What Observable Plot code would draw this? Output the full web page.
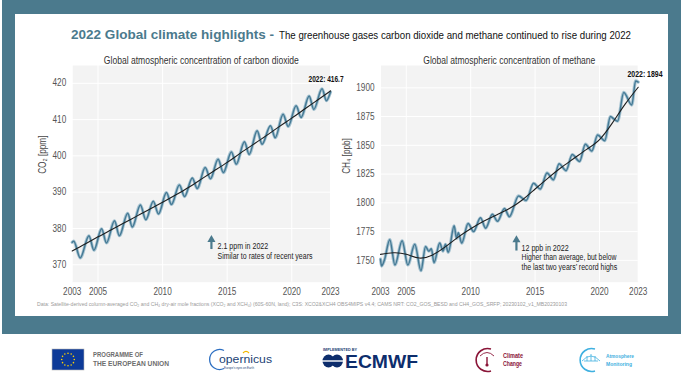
<!DOCTYPE html>
<html><head><meta charset="utf-8">
<script src="https://cdn.jsdelivr.net/npm/d3@7"></script>
<script src="https://cdn.jsdelivr.net/npm/@observablehq/plot@0.6"></script>
<style>
html,body{margin:0;padding:0;background:#fff;}
#page{position:relative;width:684px;height:387px;overflow:hidden;background:#fff;}
#frame{position:absolute;left:2px;top:0;width:679px;height:334px;background:#4b7a8d;}
#panel{position:absolute;left:15px;top:14px;width:653px;height:302px;background:#fff;}
.chart{position:absolute;top:40px;}
#deco{position:absolute;left:0;top:0;}
</style></head>
<body><div id="page"><div id="frame"></div><div id="panel"></div>
<div id="c1" class="chart" style="left:0px"></div><div id="c2" class="chart" style="left:340px"></div>
<svg id="deco" width="684" height="387"></svg></div>
<script>
// ---------- data ----------
const xTicks = [2003, 2005, 2010, 2015, 2020, 2023];
const co2Ticks = [370, 380, 390, 400, 410, 420];
const ch4Ticks = [1750, 1775, 1800, 1825, 1850, 1875, 1900];

const co2Time = [2003.00,2003.12,2003.62,2004.30,2004.68,2005.28,2005.65,2006.28,2006.65,2007.30,2007.65,2008.28,2008.70,2009.28,2009.68,2010.30,2010.68,2011.30,2011.70,2012.30,2012.68,2013.30,2013.70,2014.30,2014.70,2015.33,2015.70,2016.34,2016.70,2017.32,2017.70,2018.35,2018.72,2019.33,2019.72,2020.34,2020.72,2021.35,2021.70,2022.35,2022.68,2023.00];
const co2Values = [376.2,376.5,371.9,378.0,374.0,379.9,376.0,382.1,378.0,384.2,380.4,386.5,382.4,387.5,384.0,389.9,386.6,392.0,388.8,393.9,391.0,396.8,393.7,399.1,395.4,401.1,397.7,403.9,400.4,406.9,403.2,408.3,405.0,411.5,408.1,413.8,410.6,416.5,412.8,418.5,415.2,417.6];
const trendYears = [2003,2004,2005,2006,2007,2008,2009,2010,2011,2012,2013,2014,2015,2016,2017,2018,2019,2020,2021,2022,2023];
const co2Trend = [373.8,375.7,377.7,379.6,381.5,383.4,385.3,387.2,389.2,391.3,393.6,395.9,398.2,400.7,403.1,405.5,408.0,410.4,412.9,415.4,417.9];

const ch4Time = [2003.00,2003.08,2003.30,2003.72,2004.12,2004.68,2005.12,2005.66,2006.14,2006.50,2006.75,2006.95,2007.15,2007.60,2007.85,2008.04,2008.26,2008.72,2008.90,2009.04,2009.30,2009.80,2010.22,2010.76,2011.16,2011.68,2012.08,2012.62,2013.00,2013.72,2014.30,2014.88,2015.40,2015.92,2016.42,2016.86,2017.40,2017.88,2018.45,2018.90,2019.40,2019.85,2020.40,2020.85,2021.10,2021.40,2021.88,2022.50,2022.80,2023.00];
const ch4Values = [1751,1745,1750,1768,1746,1767,1746,1764,1741,1762,1758,1760,1748,1765,1758,1764,1757,1780,1769,1774,1765,1782,1775,1787,1778,1790,1784,1795,1788,1806,1802,1817,1812,1826,1820,1834,1828,1842,1836,1851,1845,1859,1854,1875,1873,1871,1896,1885,1906,1905];
const ch4Trend = [1755.2,1756.6,1755.3,1752.0,1754.5,1761.5,1770.0,1777.5,1784.0,1789.5,1795.0,1802.5,1812.0,1821.5,1830.5,1838.5,1846.5,1855.0,1869.5,1886.0,1900.5];

const co2Label = "2022: 416.7";
const ch4Label = "2022: 1894";
const co2Note = ["2.1 ppm in 2022", "Similar to rates of recent years"];
const ch4Note = ["12 ppb in 2022", "Higher than average, but below", "the last two years’ record highs"];
const co2NoteY = [375.15, 372.3];
const ch4NoteY = [1760.4, 1752.3, 1743.7];

// ---------- fonts ----------
function hasFont(name){
  const c = document.createElement("canvas").getContext("2d");
  const s = "abcdefghijklmnopqrstuvwxyz0123456789";
  c.font = "20px monospace"; const a = c.measureText(s).width;
  c.font = `20px "${name}", monospace`; const b = c.measureText(s).width;
  return Math.abs(a - b) > 0.5;
}
const narrow = hasFont("Liberation Sans Narrow");
const F = narrow ? '"Liberation Sans Narrow", "Liberation Sans", Arial, sans-serif' : '"Liberation Sans", Arial, sans-serif';

const fitMap = {
  "Global atmospheric concentration of carbon dioxide": 195,
  "Global atmospheric concentration of methane": 172,
  "2022: 416.7": 35, "2022: 1894": 35,
  "2.1 ppm in 2022": 50.7, "Similar to rates of recent years": 95,
  "12 ppb in 2022": 47.3, "Higher than average, but below": 95, "the last two years’ record highs": 95.7
};

function makeChart(o){
  const wave = o.wt.map((x, i) => ({x, y: o.wv[i]}));
  const trend = trendYears.map((x, i) => ({x, y: o.tv[i]}));
  const notes = o.notes.map((t, i) => ({t, y: o.noteY[i]}));
  return Plot.plot({
    width: o.width, height: 270,
    marginLeft: o.ml, marginRight: o.mr, marginTop: 25, marginBottom: 28.3,
    style: {background: "transparent", overflow: "visible", fontFamily: F, fontSize: "10px", color: "#555"},
    x: {domain: [2003, 2023], ticks: xTicks, tickFormat: d => String(d), tickSize: 0, tickPadding: 6, label: null},
    y: {domain: o.domain, ticks: o.ticks, tickFormat: d => String(d), tickSize: 0, tickPadding: 6, label: null},
    marks: [
      Plot.frame({fill: "#f3f3f3", stroke: "none"}),
      Plot.gridX(xTicks, {stroke: "#ffffff", strokeOpacity: 1, strokeWidth: 1}),
      Plot.gridY(o.ticks, {stroke: "#ffffff", strokeOpacity: 1, strokeWidth: 1}),
      Plot.line(wave, {x: "x", y: "y", curve: "monotone-x", stroke: "#a7c3d1", strokeWidth: 3.2}),
      Plot.line(wave, {x: "x", y: "y", curve: "monotone-x", stroke: "#457a95", strokeWidth: 1.5}),
      Plot.line(trend, {x: "x", y: "y", curve: "natural", stroke: "#1e1e1e", strokeWidth: 1.1}),
      Plot.text([o.title], {text: d => d, frameAnchor: "top", dy: -8.5, fontSize: 10, fill: "#333"}),
      Plot.text([o.yLabel], {text: d => d, frameAnchor: "left", rotate: -90, dx: o.labelDx, fontSize: 10, fill: "#444"}),
      Plot.text([o.valueLabel], {text: d => d, x: () => o.vx, y: () => o.vy, textAnchor: "start", fontWeight: "bold", fontSize: 8.5, fill: "#111"}),
      Plot.ruleX([o.arrow], {x: "x", y1: "y1", y2: "y2", stroke: "#4b7a8d", strokeWidth: 2.2}),
      Plot.dot([o.arrow], {x: "x", y: "y2", symbol: "triangle", r: 3, fill: "#4b7a8d", stroke: "none"}),
      Plot.text(notes, {text: "t", x: () => o.noteX, y: "y", textAnchor: "start", fontSize: 8.5, fill: "#222"})
    ]
  });
}

function postFit(svg){
  svg.querySelectorAll("text").forEach(t => {
    if (t.querySelector("tspan")) return;
    const w = fitMap[t.textContent];
    if (w) { t.setAttribute("textLength", w); t.setAttribute("lengthAdjust", "spacingAndGlyphs"); }
    else if (!narrow) {
      const L = t.getComputedTextLength();
      if (L > 0) { t.setAttribute("textLength", (L * 0.82).toFixed(2)); t.setAttribute("lengthAdjust", "spacingAndGlyphs"); }
    }
  });
}

const c1 = makeChart({
  width: 345, ml: 71.7, mr: 15, wt: co2Time, wv: co2Values, tv: co2Trend,
  domain: [365.2, 424.9], ticks: co2Ticks, title: "Global atmospheric concentration of carbon dioxide",
  yLabel: "CO₂ [ppm]", labelDx: -29, valueLabel: co2Label, vx: 2021.3, vy: 421.2,
  arrow: {x: 2013.78, y1: 374.2, y2: 376.9}, notes: co2Note, noteX: 2014.25, noteY: co2NoteY
});
document.getElementById("c1").appendChild(c1);
const c2 = makeChart({
  width: 344, ml: 40, mr: 46.3, wt: ch4Time, wv: ch4Values, tv: ch4Trend,
  domain: [1731, 1919.4], ticks: ch4Ticks, title: "Global atmospheric concentration of methane",
  yLabel: "CH₄ [ppb]", labelDx: -33.3, valueLabel: ch4Label, vx: 2022.17, vy: 1912.2,
  arrow: {x: 2013.55, y1: 1758.1, y2: 1767.7}, notes: ch4Note, noteX: 2013.94, noteY: ch4NoteY
});
document.getElementById("c2").appendChild(c2);
postFit(c1); postFit(c2);

// ---------- header, caption and logos ----------
const deco = d3.select("#deco");
function txt(x, y, s, size, fill, w, weight, family){
  const t = deco.append("text").attr("x", x).attr("y", y).attr("font-size", size).attr("fill", fill)
    .attr("font-family", family || '"Liberation Sans", Arial, sans-serif').attr("font-weight", weight || "normal").text(s);
  if (w) t.attr("textLength", w).attr("lengthAdjust", "spacingAndGlyphs");
  return t;
}
txt(71, 39, "2022 Global climate highlights -", 13.5, "#4b7a8d", 203, "bold", F);
txt(279, 39, "The greenhouse gases carbon dioxide and methane continued to rise during 2022", 10.8, "#111", 352, "normal", F);
txt(37, 305.5, "Data: Satellite-derived column-averaged CO₂ and CH₄ dry-air mole fractions (XCO₂ and XCH₄) (60S-60N, land); C3S: XCO2&XCH4 OBS4MIPS v4.4; CAMS NRT: CO2_GOS_BESD and CH4_GOS_SRFP; 20230102_v1_MB20230103", 5.8, "#9a9a9a", 530);

// EU flag
deco.append("rect").attr("x", 52).attr("y", 349).attr("width", 32).attr("height", 21).attr("fill", "#0d3a98").attr("stroke", "#b5b5b5").attr("stroke-width", 0.6);
for (let k = 0; k < 12; k++) {
  const a = k * Math.PI / 6;
  deco.append("circle").attr("cx", 68 + 6.3 * Math.cos(a)).attr("cy", 359.5 + 6.3 * Math.sin(a)).attr("r", 0.8).attr("fill", "#ffd200");
}
txt(93, 357, "PROGRAMME OF", 6.5, "#6d6d6d", 50, "bold");
txt(93, 365.5, "THE EUROPEAN UNION", 6.5, "#6d6d6d", 76, "bold");

// Copernicus
deco.append("path").attr("d", "M224,350.5 A10,10 0 1,0 224,368.5").attr("fill", "none").attr("stroke", "#2d6fc2").attr("stroke-width", 1.3);
txt(219, 362.5, "opernicus", 11, "#1c3f75", 53);
deco.append("path").attr("d", "M243,353 q3,-3 6,0").attr("fill", "none").attr("stroke", "#f2b800").attr("stroke-width", 1.2);
txt(224, 369, "Europe's eyes on Earth", 3.6, "#1c3f75", 30);

// ECMWF
txt(323, 350.5, "IMPLEMENTED BY", 4.2, "#1c3f75", 34, "bold");
deco.append("ellipse").attr("cx", 328.5).attr("cy", 361).attr("rx", 6).attr("ry", 6.5).attr("fill", "#0d2d6c");
deco.append("ellipse").attr("cx", 337).attr("cy", 361).attr("rx", 6).attr("ry", 6.5).attr("fill", "#0d2d6c");
deco.append("rect").attr("x", 322).attr("y", 360.3).attr("width", 22).attr("height", 1.4).attr("fill", "#fff");
txt(345, 368, "ECMWF", 18, "#0d2d6c", 73, "bold");

// Climate Change
deco.append("path").attr("d", "M491,349 A11.5,11.5 0 1,0 491,371").attr("fill", "none").attr("stroke", "#8a1538").attr("stroke-width", 1.6);
deco.append("path").attr("d", "M480,356 q7,-7 14,0").attr("fill", "none").attr("stroke", "#8a1538").attr("stroke-width", 0.9);
deco.append("line").attr("x1", 487).attr("x2", 487).attr("y1", 357).attr("y2", 364).attr("stroke", "#8a1538").attr("stroke-width", 1.4);
deco.append("circle").attr("cx", 487).attr("cy", 365).attr("r", 1.6).attr("fill", "#8a1538");
txt(503, 358, "Climate", 6.5, "#8a1538", 20, "bold");
txt(503, 366, "Change", 6.5, "#8a1538", 19, "bold");

// Atmosphere Monitoring
deco.append("path").attr("d", "M595,349 A11.5,11.5 0 1,0 595,371").attr("fill", "none").attr("stroke", "#3fb0e0").attr("stroke-width", 1.6);
deco.append("path").attr("d", "M582,361 q9,-10 18,0 M584,361 l14,0 M587,361 l0,-5 M591,361 l0,-7 M595,361 l0,-5").attr("fill", "none").attr("stroke", "#3fb0e0").attr("stroke-width", 0.8);
txt(606, 358, "Atmosphere", 5.6, "#3fb0e0", 28, "bold");
txt(606, 365.5, "Monitoring", 5.6, "#3fb0e0", 26, "bold");
</script></body></html>
